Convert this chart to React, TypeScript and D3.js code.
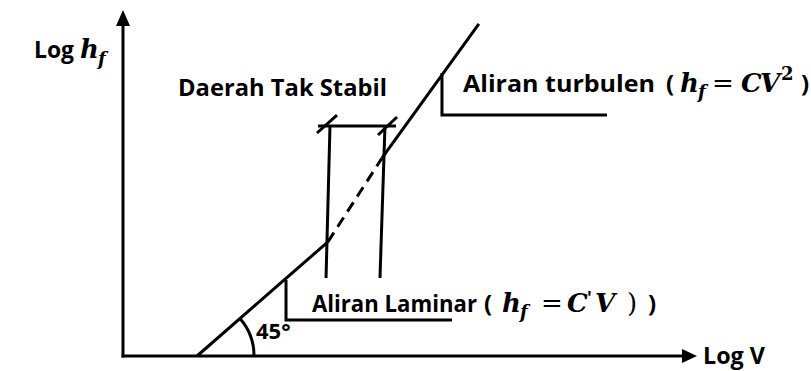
import React from "react";
import * as d3 from "d3";

// Log V (x) and Log h_f (y) in log units
const laminarLine: [number, number][] = [[1.29, 0], [3.57, 1.98]];
const transitionLine: [number, number][] = [[3.57, 1.98], [4.51, 3.43]];
const turbulentLine: [number, number][] = [[4.51, 3.43], [6.2, 5.76]];

// unstable zone bracket
const zoneLeft: [number, number][] = [[3.606, 3.988], [3.537, 1.353]];
const zoneRight: [number, number][] = [[4.564, 3.988], [4.477, 1.353]];
const zoneTop: [number, number][] = [[3.397, 3.988], [4.756, 3.988]];
const zoneTickLeft: [number, number][] = [[3.38, 3.867], [3.728, 4.179]];
const zoneTickRight: [number, number][] = [[4.443, 3.832], [4.774, 4.144]];

// leader lines for the regime labels
const turbulentLeader: [number, number][] = [[5.557, 4.907], [5.557, 4.179], [8.432, 4.179]];
const laminarLeader: [number, number][] = [[2.84, 1.318], [2.84, 0.624], [5.732, 0.624]];

const angleLabel = "45°";

const W = 811;
const H = 371;

const x = d3.scaleLinear().domain([0, 10]).range([123, 697]);
const y = d3.scaleLinear().domain([0, 6]).range([356, 10]);

const line = d3
  .line<[number, number]>()
  .x((d) => x(d[0]))
  .y((d) => y(d[1]));

const SANS = "'Open Sans', sans-serif";
const MATH = "'DejaVu Serif', serif";
const FS = 24;
const MS = 26;

export default function App() {
  const ox = x(0);
  const oy = y(0);
  const tipY = y(6);
  const tipX = x(10);

  // angle arc at the foot of the laminar line
  const [p0, p1] = laminarLine;
  const cx = x(p0[0]);
  const cy = y(p0[1]);
  const ang = Math.atan2(-(y(p1[1]) - cy), x(p1[0]) - cx);
  const r = 57;
  const arcPath = `M${cx + r},${cy} A${r},${r} 0 0 0 ${cx + r * Math.cos(ang)},${cy - r * Math.sin(ang)}`;

  const stroke = { stroke: "#000", strokeWidth: 3, fill: "none" } as const;
  const sans = { fontFamily: SANS, fontWeight: 700, fontSize: FS, fill: "#000" } as const;
  const mathIt = { fontFamily: MATH, fontWeight: 700, fontStyle: "italic", fontSize: MS, fill: "#000" } as const;
  const sub = { fontFamily: MATH, fontWeight: 700, fontStyle: "italic", fontSize: 18, fill: "#000" } as const;
  const eq = { fontFamily: MATH, fontWeight: 400, fontSize: MS, fill: "#000" } as const;

  return (
    <svg
      width={W}
      height={H}
      style={{ position: "absolute", left: 0, top: 0, background: "#fff" }}
    >
      {/* axes */}
      <line x1={ox} y1={oy + 1.5} x2={ox} y2={tipY + 12} {...stroke} />
      <path d={`M${ox},${tipY} L${ox - 7},${tipY + 16} L${ox + 7},${tipY + 16} Z`} fill="#000" />
      <line x1={ox - 1.5} y1={oy} x2={tipX - 10} y2={oy} {...stroke} />
      <path d={`M${tipX},${oy} L${tipX - 15},${oy - 7} L${tipX - 15},${oy + 7} Z`} fill="#000" />

      {/* regime line */}
      <path d={line(laminarLine)!} {...stroke} />
      <path d={line(transitionLine)!} {...stroke} strokeDasharray="11 7" />
      <path d={line(turbulentLine)!} {...stroke} />

      {/* unstable zone */}
      <path d={line(zoneLeft)!} {...stroke} />
      <path d={line(zoneRight)!} {...stroke} />
      <path d={line(zoneTop)!} {...stroke} />
      <path d={line(zoneTickLeft)!} {...stroke} />
      <path d={line(zoneTickRight)!} {...stroke} />

      {/* leaders */}
      <path d={line(turbulentLeader)!} {...stroke} />
      <path d={line(laminarLeader)!} {...stroke} />

      {/* 45 degree arc */}
      <path d={arcPath} {...stroke} />

      {/* axis titles */}
      <text x={34} y={58} {...sans} textLength={40} lengthAdjust="spacingAndGlyphs">Log</text>
      <text x={80} y={58} {...mathIt}>h</text>
      <text x={98} y={65} {...sub}>f</text>

      <text x={703} y={364} {...sans} textLength={62} lengthAdjust="spacingAndGlyphs">
        Log V
      </text>

      {/* zone label */}
      <text x={178} y={96} {...sans} textLength={209} lengthAdjust="spacingAndGlyphs">
        Daerah Tak Stabil
      </text>

      {/* turbulent label */}
      <text x={463} y={92} {...sans} textLength={192} lengthAdjust="spacingAndGlyphs">
        Aliran turbulen
      </text>
      <text y={92} {...sans}>
        <tspan x={666}>(</tspan>
        <tspan x={801}>)</tspan>
      </text>
      <text y={92} {...mathIt}>
        <tspan x={680}>h</tspan>
        <tspan x={741}>C</tspan>
        <tspan x={760}>V</tspan>
      </text>
      <text x={698} y={98} {...sub}>f</text>
      <text x={712} y={92} {...eq}>=</text>
      <text x={781} y={80} {...sub} fontStyle="normal">2</text>

      {/* laminar label */}
      <text x={312} y={312} {...sans} fontSize={22.5} textLength={165} lengthAdjust="spacingAndGlyphs">
        Aliran Laminar
      </text>
      <text x={484} y={312} {...sans}>(</text>
      <text x={648} y={312} {...sans}>)</text>
      <text x={502} y={312} {...mathIt}>h</text>
      <text x={567} y={312} {...mathIt}>C</text>
      <text x={595} y={312} {...mathIt}>V</text>
      <text x={587} y={304} {...sans} fontSize={18}>'</text>
      <text x={627} y={312} {...eq}>)</text>
      <text x={520} y={318} {...sub}>f</text>
      <text x={541} y={312} {...eq}>=</text>

      {/* angle label */}
      <text x={256} y={339} {...sans} fontSize={22}>
        {angleLabel}
      </text>
    </svg>
  );
}
